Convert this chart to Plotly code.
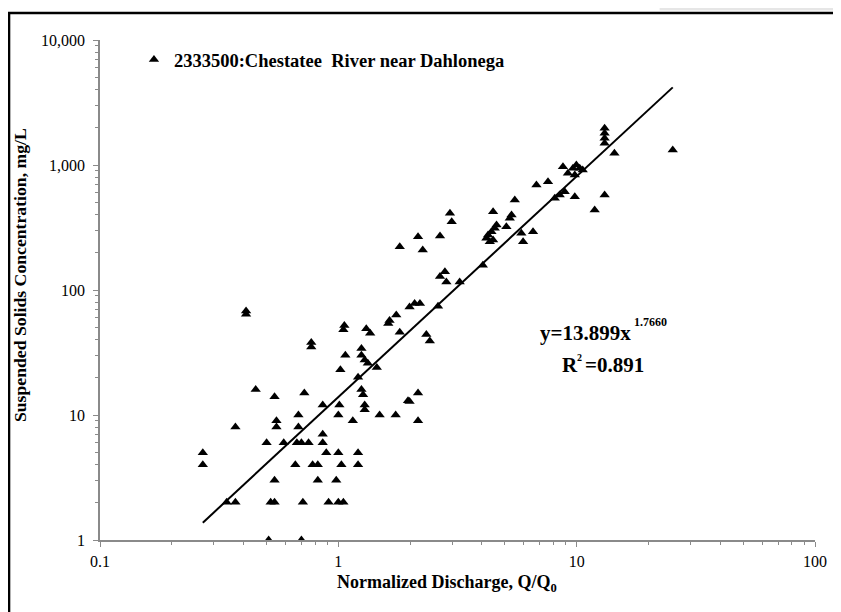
import numpy as np
import plotly.graph_objects as go

# Normalized discharge Q/Q0 and suspended solids concentration (mg/L)
q_ratio = [0.27, 0.27, 0.34, 0.37, 0.37, 0.41, 0.41, 0.45, 0.50, 0.52,
           0.54, 0.51, 0.54, 0.54, 0.55, 0.55, 0.59, 0.67, 0.70, 0.75,
           0.68, 0.68, 0.66, 0.72, 0.71, 0.70, 0.77, 0.77, 0.78, 0.82,
           0.82, 0.86, 0.86, 0.86, 0.89, 0.91, 0.98, 1.00, 1.00, 1.01,
           1.00, 1.05, 1.03, 1.05, 1.06, 1.07, 1.02, 1.15, 1.21, 1.21,
           1.25, 1.27, 1.29, 1.29, 1.25, 1.25, 1.29, 1.33, 1.45, 1.21,
           1.31, 1.36, 1.62, 1.64, 1.75, 1.81, 2.34, 2.42, 1.49, 1.74,
           1.96, 1.99, 2.16, 2.16, 1.99, 2.09, 2.20, 2.62, 1.81, 2.16,
           2.26, 2.67, 2.94, 2.99, 2.67, 2.80, 2.84, 3.23, 4.04, 4.46,
           4.18, 4.25, 4.39, 4.53, 4.61, 4.32, 4.46, 5.07, 5.24, 5.33,
           5.50, 5.86, 5.96, 6.56, 6.78, 7.58, 8.09, 8.49, 8.91, 9.82,
           8.76, 9.65, 9.97, 9.82, 10.3, 10.6, 9.19, 13.1, 13.1, 13.1,
           13.1, 14.4, 25.3, 13.1, 11.9]
ssc = [5, 4, 2, 2, 8, 64, 68, 16, 6, 2,
       2, 1, 14, 3, 9, 8, 6, 6, 6, 6,
       10, 8, 4, 15, 2, 1, 35, 38, 4, 4,
       3, 12, 7, 6, 5, 2, 3, 5, 10, 12,
       2, 2, 4, 48, 52, 30, 23, 9, 5, 4,
       16, 14.5, 12, 11, 34, 30, 27.5, 26, 24, 20,
       49, 45, 54, 57, 63, 46, 44, 39, 10, 10,
       13, 12.8, 15, 9, 73, 78, 78, 74, 222, 267,
       209, 270, 411, 352, 128, 140, 116, 116, 158, 423,
       259, 275, 293, 312, 331, 243, 251, 321, 375, 398,
       525, 284, 243, 293, 692, 735, 542, 575, 611, 558,
       969, 941, 1000, 832, 941, 912, 858, 1967, 1794, 1636,
       1492, 1241, 1318, 575, 437]

# Power-law fit y = a * x^b
fit_a = 13.899
fit_b = 1.7660
r_squared = 0.891

station_name = "2333500:Chestatee\u00a0 River near Dahlonega"

x_tickvals = [0.1, 1, 10, 100]
x_ticktext = ["0.1", "1", "10", "100"]
y_tickvals = [1, 10, 100, 1000, 10000]
y_ticktext = ["1", "10", "100", "1,000", "10,000"]

x_fit = np.geomspace(min(q_ratio), max(q_ratio), 60)
y_fit = fit_a * x_fit ** fit_b

SERIF = "Liberation Serif, Times New Roman, serif"

fig = go.Figure()
fig.add_trace(go.Scatter(
    x=x_fit, y=y_fit, mode="lines",
    line=dict(color="black", width=2),
    showlegend=False, hoverinfo="skip"))
fig.add_trace(go.Scatter(
    x=q_ratio, y=ssc, mode="markers", name=station_name,
    marker=dict(symbol="triangle-up", size=9, color="black")))

x_minor = [m * 10 ** k for k in range(-1, 2) for m in range(2, 10)]
y_minor = [m * 10 ** k for k in range(0, 4) for m in range(2, 10)]

axis_common = dict(
    showline=True, linecolor="#8a8a8a", linewidth=1.5,
    showgrid=False, zeroline=False,
    ticks="outside", ticklen=5, tickcolor="#8a8a8a", tickwidth=1,
    tickfont=dict(family=SERIF, size=16, color="black"),
)

fig.update_xaxes(
    type="log", range=[-1, 2],
    tickvals=x_tickvals, ticktext=x_ticktext, ticklabelstandoff=1,
    minor=dict(tickvals=x_minor, ticks="outside", ticklen=3,
               tickcolor="#8a8a8a", showgrid=False),
    **axis_common)
fig.update_yaxes(
    type="log", range=[0, 4],
    tickvals=y_tickvals, ticktext=y_ticktext, ticklabelstandoff=5,
    minor=dict(tickvals=y_minor, ticks="outside", ticklen=3,
               tickcolor="#8a8a8a", showgrid=False),
    **axis_common)

BOLD = dict(family=SERIF, color="black", weight="bold")

fig.update_layout(
    width=833, height=604,
    margin=dict(l=92, r=25.5, t=32, b=72),
    paper_bgcolor="white", plot_bgcolor="white",
    font=dict(family=SERIF, color="black"),
    showlegend=True,
    legend=dict(x=0.0475, y=0.96, xanchor="left", yanchor="middle",
                bgcolor="rgba(0,0,0,0)", borderwidth=0,
                font=dict(BOLD, size=18.5)),
    shapes=[
        dict(type="rect", xref="paper", yref="paper",
             x0=0.7827, x1=1.1, y0=1.059, y1=1.08,
             fillcolor="#e6e6e6", line=dict(width=0), layer="below"),
        dict(type="rect", xref="paper", yref="paper",
             x0=-0.1272, x1=1.1, y0=-0.2, y1=1.054,
             line=dict(color="black", width=2.5),
             fillcolor="rgba(0,0,0,0)"),
    ],
    annotations=[
        dict(xref="paper", yref="paper", x=-0.1118, y=0.53,
             xanchor="center", yanchor="middle",
             text="Suspended Solids Concentration, mg/L",
             textangle=-90, showarrow=False,
             font=dict(BOLD, size=17.7)),
        dict(xref="paper", yref="paper", x=0.485, y=-0.086,
             xanchor="center", yanchor="middle",
             text="Normalized Discharge, Q/Q<sub>0</sub>",
             showarrow=False,
             font=dict(BOLD, size=18)),
        dict(xref="paper", yref="paper", x=0.612, y=0.414,
             xanchor="left", yanchor="middle",
             text=f"y={fit_a}x",
             showarrow=False, font=dict(BOLD, size=21)),
        dict(xref="paper", yref="paper", x=0.7435, y=0.436,
             xanchor="left", yanchor="middle",
             text=f"{fit_b:.4f}",
             showarrow=False, font=dict(BOLD, size=12)),
        dict(xref="paper", yref="paper", x=0.643, y=0.35,
             xanchor="left", yanchor="middle",
             text="R", showarrow=False, font=dict(BOLD, size=21)),
        dict(xref="paper", yref="paper", x=0.6700, y=0.366,
             xanchor="center", yanchor="middle",
             text="2", showarrow=False, font=dict(BOLD, size=10)),
        dict(xref="paper", yref="paper", x=0.6760, y=0.35,
             xanchor="left", yanchor="middle",
             text=f"={r_squared}", showarrow=False,
             font=dict(BOLD, size=21)),
    ],
)

fig.write_html("out.html")
